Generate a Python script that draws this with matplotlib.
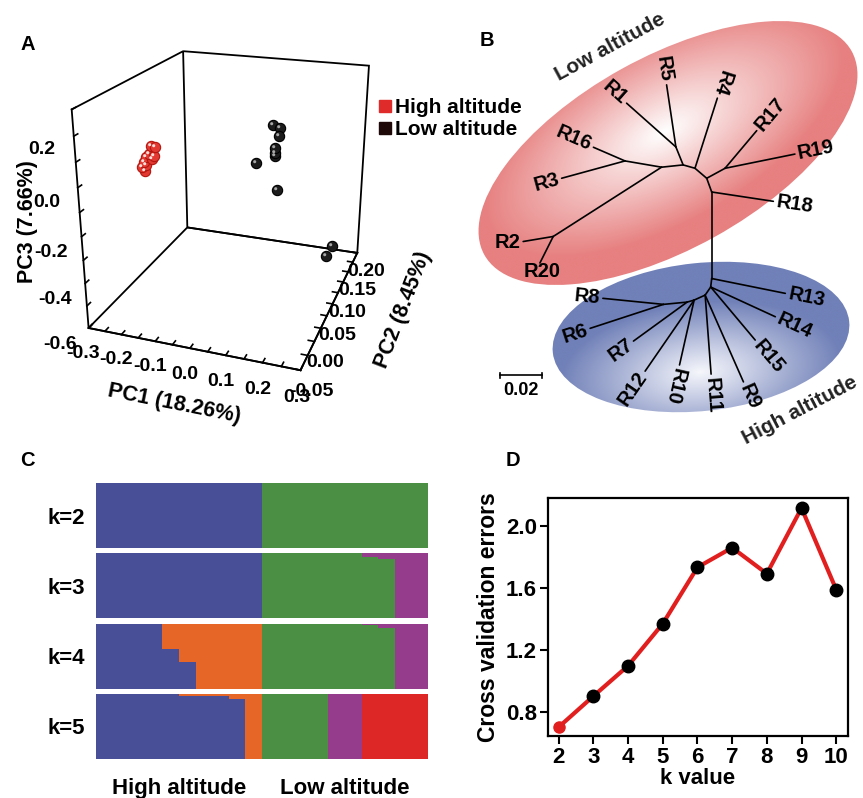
import numpy as np
import matplotlib
matplotlib.use("Agg")
import matplotlib.pyplot as plt
from matplotlib.patches import Ellipse
from matplotlib.lines import Line2D
from matplotlib.path import Path
from matplotlib.markers import MarkerStyle
from matplotlib.ticker import FixedLocator, FuncFormatter

# ---------------------------------------------------------------- data
# Panel A: PCA scores
pc1_high = [-0.265, -0.253, -0.271, -0.256, -0.282, -0.291, -0.285, -0.297, -0.288, -0.262]
pc2_high = [0.08, 0.08, 0.08, 0.08, 0.08, 0.08, 0.08, 0.08, 0.08, 0.08]
pc3_high = [-0.002, -0.006, -0.039, -0.047, -0.056, -0.081, -0.092, -0.101, -0.119, -0.058]
pc1_low = [0.14, 0.16, 0.165, 0.155, 0.155, 0.155, 0.105, 0.17, 0.245, 0.235]
pc2_low = [0.04, 0.04, 0.03, 0.03, 0.03, 0.03, 0.03, 0.02, 0.15, 0.14]
pc3_low = [0.20, 0.19, 0.175, 0.125, 0.105, 0.095, 0.055, -0.025, -0.485, -0.515]
pc_labels = ["PC1 (18.26%)", "PC2 (8.45%)", "PC3 (7.66%)"]
group_names = ["High altitude", "Low altitude"]

# Panel B: unrooted NJ tree, (parent, child, branch length, branch direction in degrees)
tree_edges = [
    ("root", "R18", 0.0299, -8.6),
    ("root", "n_up", 0.0070, 110.0),
    ("root", "n_lo", 0.0415, -90.0),
    ("n_up", "n_d", 0.0074, 139.5),
    ("n_up", "n_1719", 0.0100, 28.6),
    ("n_1719", "R17", 0.0236, 49.9),
    ("n_1719", "R19", 0.0342, 11.5),
    ("n_d", "R4", 0.0353, 72.3),
    ("n_d", "n_b", 0.0059, 164.2),
    ("n_b", "n_15", 0.0093, 112.0),
    ("n_b", "n_c", 0.0104, 186.0),
    ("n_15", "R1", 0.0316, 138.4),
    ("n_15", "R5", 0.0301, 98.5),
    ("n_c", "n_316", 0.0178, 170.3),
    ("n_c", "n_220", 0.0617, 212.6),
    ("n_316", "R16", 0.0165, 156.6),
    ("n_316", "R3", 0.0315, 195.3),
    ("n_220", "R2", 0.0146, 189.5),
    ("n_220", "R20", 0.0142, 243.4),
    ("n_lo", "R13", 0.0360, -11.4),
    ("n_lo", "n_h", 0.0041, -96.7),
    ("n_h", "R14", 0.0341, -24.7),
    ("n_h", "R15", 0.0332, -50.0),
    ("n_h", "n_i", 0.0047, -124.5),
    ("n_i", "R9", 0.0455, -66.2),
    ("n_i", "R11", 0.0380, -85.7),
    ("n_i", "n_j", 0.0058, -155.6),
    ("n_j", "R10", 0.0319, -102.7),
    ("n_j", "R12", 0.0414, -124.6),
    ("n_j", "n_k", 0.0035, -164.0),
    ("n_k", "R7", 0.0318, -144.0),
    ("n_k", "n_l", 0.0114, -174.5),
    ("n_l", "R8", 0.0292, 174.3),
    ("n_l", "R6", 0.0370, -161.9),
]
scale_bar_value = 0.02

# Panel C: ADMIXTURE ancestry proportions, 20 individuals (10 high, 10 low altitude)
k2_blue   = [1, 1, 1, 1, 1, 1, 1, 1, 1, 1, 0, 0, 0, 0, 0, 0, 0, 0, 0, 0]
k2_green  = [0, 0, 0, 0, 0, 0, 0, 0, 0, 0, 1, 1, 1, 1, 1, 1, 1, 1, 1, 1]
k3_blue   = [1, 1, 1, 1, 1, 1, 1, 1, 1, 1, 0, 0, 0, 0, 0, 0, 0, 0, 0, 0]
k3_green  = [0, 0, 0, 0, 0, 0, 0, 0, 0, 0, 1, 1, 1, 1, 1, 1, 0.95, 0.91, 0, 0]
k3_purple = [0, 0, 0, 0, 0, 0, 0, 0, 0, 0, 0, 0, 0, 0, 0, 0, 0.05, 0.09, 1, 1]
k4_blue   = [1, 1, 1, 1, 0.61, 0.41, 0, 0, 0, 0, 0, 0, 0, 0, 0, 0, 0, 0, 0, 0]
k4_orange = [0, 0, 0, 0, 0.39, 0.59, 1, 1, 1, 1, 0, 0, 0, 0, 0, 0, 0, 0, 0, 0]
k4_green  = [0, 0, 0, 0, 0, 0, 0, 0, 0, 0, 1, 1, 1, 1, 1, 1, 0.97, 0.93, 0, 0]
k4_purple = [0, 0, 0, 0, 0, 0, 0, 0, 0, 0, 0, 0, 0, 0, 0, 0, 0.03, 0.07, 1, 1]
k5_blue   = [1, 1, 1, 1, 1, 0.965, 0.965, 0.96, 0.92, 0, 0, 0, 0, 0, 0, 0, 0, 0, 0, 0]
k5_orange = [0, 0, 0, 0, 0, 0.035, 0.035, 0.04, 0.08, 1, 0, 0, 0, 0, 0, 0, 0, 0, 0, 0]
k5_green  = [0, 0, 0, 0, 0, 0, 0, 0, 0, 0, 1, 1, 1, 1, 0, 0, 0, 0, 0, 0]
k5_purple = [0, 0, 0, 0, 0, 0, 0, 0, 0, 0, 0, 0, 0, 0, 1, 1, 0, 0, 0, 0]
k5_red    = [0, 0, 0, 0, 0, 0, 0, 0, 0, 0, 0, 0, 0, 0, 0, 0, 1, 1, 1, 1]
struct_k_labels = ["k=2", "k=3", "k=4", "k=5"]

# Panel D: cross-validation error per K
cv_k = [2, 3, 4, 5, 6, 7, 8, 9, 10]
cv_error = [0.703, 0.903, 1.099, 1.371, 1.735, 1.862, 1.694, 2.118, 1.591]

# ---------------------------------------------------------------- style
plt.rcParams["font.family"] = ["Liberation Sans", "DejaVu Sans"]
plt.rcParams["font.weight"] = "bold"
plt.rcParams["axes.labelweight"] = "bold"

BLUE, GREEN, ORANGE, PURPLE, RED = "#494f97", "#4b8f45", "#e56627", "#963c8c", "#dc2726"

W, H = 863, 798
fig = plt.figure(figsize=(W / 100, H / 100), dpi=100)


def px_axes(x0, y0, x1, y1, **kw):
    return fig.add_axes([x0 / W, 1 - y1 / H, (x1 - x0) / W, (y1 - y0) / H], **kw)


# ---------------------------------------------------------------- A: 3D PCA
axA = px_axes(14, -13, 444, 407, projection="3d")
axA.set_proj_type("persp", focal_length=0.36)
axA.view_init(elev=22, azim=-70.5)
axA.set_box_aspect((0.87, 1.02, 0.9), zoom=0.90)
axA.set_xlim(-0.3, 0.3)
axA.set_ylim(-0.05, 0.2)
axA.set_zlim(-0.6, 0.3)
axA.grid(False)
for axis in (axA.xaxis, axA.yaxis, axA.zaxis):
    axis.pane.set_alpha(None)
    axis.pane.set_facecolor((1, 1, 1, 0))
    axis.pane.set_edgecolor("black")
    axis.pane.set_linewidth(1.3)
    axis.line.set_linewidth(1.3)
    axis._axinfo["tick"]["inward_factor"] = 0.0
    axis._axinfo["tick"]["outward_factor"] = 0.35
    axis._axinfo["tick"]["linewidth"] = {True: 1.2, False: 1.2}
axA.zaxis.set_ticks_position("lower")


def tick_fmt(decimals, labelled):
    def f(v, pos):
        for t in labelled:
            if abs(v - t) < 1e-9:
                v = 0.0 if abs(v) < 1e-9 else v
                return f"{v:.{decimals}f}"
        return ""
    return FuncFormatter(f)


x_ticks = np.round(np.arange(-0.3, 0.3001, 0.05), 3)
y_ticks = np.round(np.arange(-0.05, 0.2001, 0.025), 3)
z_ticks = np.round(np.arange(-0.6, 0.3001, 0.1), 3)
axA.xaxis.set_major_locator(FixedLocator(x_ticks))
axA.yaxis.set_major_locator(FixedLocator(y_ticks))
axA.zaxis.set_major_locator(FixedLocator(z_ticks))
axA.xaxis.set_major_formatter(tick_fmt(1, [-0.3, -0.2, -0.1, 0.0, 0.1, 0.2, 0.3]))
axA.yaxis.set_major_formatter(tick_fmt(2, [-0.05, 0.0, 0.05, 0.1, 0.15, 0.2]))
axA.zaxis.set_major_formatter(tick_fmt(1, [-0.6, -0.4, -0.2, 0.0, 0.2]))
axA.tick_params(labelsize=14, pad=0)
axA.tick_params(axis="z", pad=6)
axA.set_xlabel(pc_labels[0], fontsize=15.5, labelpad=4)
# depth and vertical axis titles
fig.text(403 / W, 1 - 310 / H, pc_labels[1], fontsize=15.5, rotation=69, ha="center", va="center")
fig.text(28 / W, 1 - 222 / H, pc_labels[2], fontsize=15.5, rotation=90, ha="center", va="center")

# glossy balls: body + small offset highlight
hl = Path.circle((-0.35, 0.35), 0.3)
hl_marker = MarkerStyle(hl)
S = 55
for xs, ys, zs, body, edge, shine in (
    (pc1_high, pc2_high, pc3_high, "#e23a32", "#b3160f", "#ffe0dc"),
    (pc1_low, pc2_low, pc3_low, "#1c1c1c", "#000000", "#a8a8a8"),
):
    axA.scatter(xs, ys, zs, s=S, c=body, edgecolors=edge, linewidths=0.8, depthshade=False)
    axA.scatter(xs, ys, zs, s=S * 0.42, c=shine, marker=hl_marker, linewidths=0, depthshade=False)

legend_handles = [
    Line2D([], [], ls="none", marker="s", ms=9, mfc="#e02b2b", mec="#e02b2b"),
    Line2D([], [], ls="none", marker="s", ms=9, mfc="#1e0808", mec="#1e0808"),
]
fig.legend(legend_handles, group_names, loc="upper left", bbox_to_anchor=(368 / W, 1 - 90 / H),
           frameon=False, fontsize=15, handletextpad=0.1, handlelength=0.8, labelspacing=0.15,
           borderaxespad=0)

# ---------------------------------------------------------------- B: tree
axB = px_axes(430, 0, 863, 430)
axB.set_xlim(430, 863)
axB.set_ylim(430, 0)
axB.axis("off")

PX_PER_UNIT = 41.7 / 0.02


def shaded_ellipse(ax, cx, cy, w, h, ang, hx, hy, rim, core):
    ell = Ellipse((cx, cy), w, h, angle=ang, facecolor="none", edgecolor="none")
    ax.add_patch(ell)
    r = max(w, h) / 2 + 4
    xs = np.linspace(cx - r, cx + r, 500)
    ys = np.linspace(cy - r, cy + r, 500)
    X, Y = np.meshgrid(xs, ys)
    t = np.deg2rad(ang)
    dx, dy = X - hx, Y - hy
    u = dx * np.cos(t) + dy * np.sin(t)
    v = -dx * np.sin(t) + dy * np.cos(t)
    d = np.sqrt((u / (w / 2)) ** 2 + (v / (h / 2)) ** 2)
    f = np.clip(d / 0.95, 0, 1) ** 1.0
    rim = np.array(rim) / 255.0
    core = np.array(core) / 255.0
    img = core[None, None, :] * (1 - f[..., None]) + rim[None, None, :] * f[..., None]
    im = ax.imshow(img, extent=(xs[0], xs[-1], ys[-1], ys[0]), origin="upper",
                   interpolation="bilinear", zorder=0)
    im.set_clip_path(ell)


shaded_ellipse(axB, 668, 153, 420, 192, -29, 664, 132, (231, 128, 128), (255, 255, 255))
shaded_ellipse(axB, 701, 337, 298, 148, -6, 700, 372, (112, 128, 184), (246, 247, 252))

pos = {"root": (711.7, 192.0)}
for parent, child, length, ang in tree_edges:
    x0, y0 = pos[parent]
    L = length * PX_PER_UNIT
    a = np.deg2rad(ang)
    pos[child] = (x0 + L * np.cos(a), y0 - L * np.sin(a))
    axB.plot([x0, pos[child][0]], [y0, pos[child][1]], color="black", lw=1.2,
             solid_capstyle="round", zorder=2)
    if child.startswith("R"):
        tx, ty = pos[child][0] + 3 * np.cos(a), pos[child][1] - 3 * np.sin(a)
        rot = ang % 360
        if rot > 180:
            rot -= 360
        leftward = not (-112.5 < rot <= 67.5)
        if rot > 67.5:
            rot -= 180
        elif rot <= -112.5:
            rot += 180
        if child == "R20":
            axB.text(pos[child][0] + 2, pos[child][1] - 1, child, fontsize=14.5, ha="center",
                     va="top", zorder=3)
            continue
        if child == "R2":
            rot = 0
        axB.text(tx, ty, child, fontsize=14.5, rotation=rot, rotation_mode="anchor",
                 ha="right" if leftward else "left", va="center", zorder=3)

# scale bar
sb_x0, sb_y = 500, 375
sb_x1 = sb_x0 + scale_bar_value * PX_PER_UNIT
axB.plot([sb_x0, sb_x1], [sb_y, sb_y], color="black", lw=1.2)
axB.plot([sb_x0, sb_x0], [sb_y - 2.5, sb_y + 2.5], color="black", lw=1.2)
axB.plot([sb_x1, sb_x1], [sb_y - 2.5, sb_y + 2.5], color="black", lw=1.2)
axB.text((sb_x0 + sb_x1) / 2, sb_y + 7, f"{scale_bar_value:.2f}", fontsize=13, ha="center", va="top")

axB.text(610, 47, "Low altitude", fontsize=15, rotation=28.5, ha="center", va="center",
         color="#222222")
axB.text(800, 410, "High altitude", fontsize=15, rotation=27.5, ha="center", va="center",
         color="#222222")

# ---------------------------------------------------------------- C: ADMIXTURE bars
axC = px_axes(96, 483, 428, 759)
gap = 5 / 65
bands = [
    ([k2_blue, k2_green], [BLUE, GREEN]),
    ([k3_blue, k3_green, k3_purple], [BLUE, GREEN, PURPLE]),
    ([k4_blue, k4_orange, k4_green, k4_purple], [BLUE, ORANGE, GREEN, PURPLE]),
    ([k5_blue, k5_orange, k5_green, k5_purple, k5_red], [BLUE, ORANGE, GREEN, PURPLE, RED]),
]
ind = np.arange(len(k2_blue))
centres = []
for i, (qs, cols) in enumerate(bands):
    base = (len(bands) - 1 - i) * (1 + gap)
    centres.append(base + 0.5)
    bottom = np.full(len(ind), base, dtype=float)
    for q, c in zip(qs, cols):
        q = np.asarray(q, dtype=float)
        axC.bar(ind, q, bottom=bottom, width=1.0, align="edge", color=c, linewidth=0,
                antialiased=False)
        bottom = bottom + q
axC.set_xlim(0, len(ind))
axC.set_ylim(0, len(bands) + (len(bands) - 1) * gap)
axC.set_yticks(centres, struct_k_labels)
axC.set_xticks([5, 15], group_names)
axC.tick_params(length=0, labelsize=16)
axC.tick_params(axis="y", pad=8)
axC.tick_params(axis="x", pad=14)
for s in axC.spines.values():
    s.set_visible(False)

# ---------------------------------------------------------------- D: CV error
axD = px_axes(548, 498, 848, 736)
axD.plot(cv_k, cv_error, color="#e11f1f", lw=3, zorder=2)
axD.plot(cv_k[1:], cv_error[1:], ls="none", marker="o", ms=9, mfc="black", mec="black", zorder=3)
axD.plot(cv_k[:1], cv_error[:1], ls="none", marker="o", ms=8, mfc="#e11f1f", mec="#e11f1f", zorder=3)
axD.set_xlim(1.69, 10.34)
axD.set_ylim(0.645, 2.183)
axD.set_xticks(cv_k)
axD.set_yticks([0.8, 1.2, 1.6, 2.0])
axD.yaxis.set_major_formatter(FuncFormatter(lambda v, p: f"{v:.1f}"))
for s in axD.spines.values():
    s.set_linewidth(1.6)
axD.tick_params(direction="out", length=6, width=1.5, labelsize=16, pad=2)
axD.set_xlabel("k value", fontsize=16, labelpad=0)
axD.set_ylabel("Cross validation errors", fontsize=16.5, labelpad=4)

# ---------------------------------------------------------------- panel letters
for letter, x, y in (("A", 28, 45), ("B", 487, 40), ("C", 27, 460), ("D", 513, 460)):
    fig.text(x / W, 1 - y / H, letter, fontsize=14.5, ha="center", va="center")

fig.savefig("out.png", dpi=100)
